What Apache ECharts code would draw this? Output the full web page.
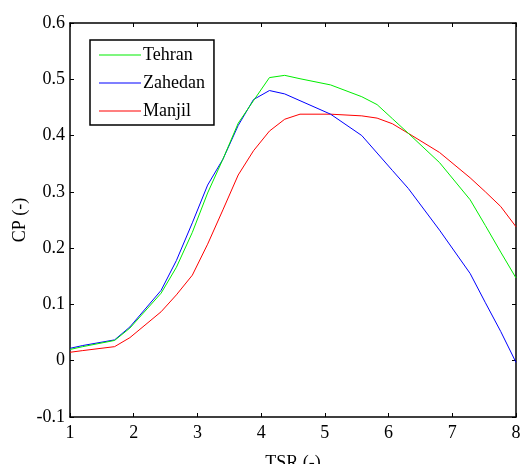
<!DOCTYPE html>
<html>
<head>
<meta charset="utf-8">
<script src="https://cdn.jsdelivr.net/npm/echarts@6/dist/echarts.min.js"></script>
<style>html,body{margin:0;padding:0;background:#fff;}#c{width:520px;height:464px;}</style>
</head>
<body>
<div id="c"></div>
<script>
const tsr = [1, 1.2, 1.7, 1.94, 2.43, 2.67, 2.92, 3.16, 3.4, 3.64, 3.88, 4.13, 4.37, 4.61, 5.09, 5.58, 5.82, 6.06, 6.31, 6.8, 7.28, 7.52, 7.76, 8];
const tehran  = [0.020, 0.025, 0.036, 0.058, 0.120, 0.166, 0.228, 0.298, 0.358, 0.422, 0.462, 0.503, 0.507, 0.501, 0.490, 0.469, 0.455, 0.430, 0.404, 0.352, 0.286, 0.240, 0.193, 0.147];
const zahedan = [0.022, 0.027, 0.037, 0.060, 0.125, 0.178, 0.245, 0.312, 0.358, 0.418, 0.464, 0.480, 0.474, 0.462, 0.438, 0.400, 0.369, 0.338, 0.306, 0.232, 0.155, 0.103, 0.052, -0.003];
const manjil  = [0.015, 0.018, 0.025, 0.041, 0.087, 0.117, 0.152, 0.207, 0.268, 0.330, 0.373, 0.408, 0.429, 0.438, 0.438, 0.435, 0.431, 0.421, 0.404, 0.370, 0.325, 0.300, 0.274, 0.238];
const xTicks = [1, 2, 3, 4, 5, 6, 7, 8];
const yTicks = [-0.1, 0, 0.1, 0.2, 0.3, 0.4, 0.5, 0.6];
const seriesNames = ['Tehran', 'Zahedan', 'Manjil'];
const seriesColors = ['#00ee00', '#0000ff', '#ff0000'];

const pairs = arr => tsr.map((x, i) => [x, arr[i]]);
const font = 'Liberation Serif';
const axisLine = { show: true, onZero: false, lineStyle: { color: '#000', width: 1.5 } };
const tick = { show: true, inside: true, length: 4, lineStyle: { color: '#000', width: 1 } };

const chart = echarts.init(document.getElementById('c'), null, { renderer: 'canvas' });
chart.setOption({
  backgroundColor: '#fff',
  animation: false,
  grid: { left: 70, right: 4, top: 23, bottom: 47, containLabel: false, outerBoundsMode: 'none' },
  legend: {
    orient: 'vertical', left: 90, top: 40,
    padding: [6, 9, 5, 9], itemGap: 10, itemWidth: 42, itemHeight: 14,
    borderColor: '#000', borderWidth: 1.5, backgroundColor: '#fff',
    textStyle: { fontFamily: font, fontSize: 18, color: '#000', padding: [0, 0, 0, -3] },
    data: seriesNames.map(n => ({ name: n, icon: 'path://M0,5 L42,5 L42,6 L0,6 Z' }))
  },
  xAxis: [{
    type: 'value', min: xTicks[0], max: xTicks[xTicks.length - 1], interval: 1,
    name: 'TSR (-)', nameLocation: 'middle', nameGap: 37,
    nameTextStyle: { fontFamily: font, fontSize: 18, color: '#000' },
    axisLine: axisLine, axisTick: tick, splitLine: { show: false },
    axisLabel: { fontFamily: font, fontSize: 18, color: '#000', margin: 7 }
  }, {
    type: 'value', position: 'top', min: xTicks[0], max: xTicks[xTicks.length - 1], interval: 1,
    axisLine: axisLine, axisTick: tick, splitLine: { show: false }, axisLabel: { show: false }
  }],
  yAxis: [{
    type: 'value', min: yTicks[0], max: yTicks[yTicks.length - 1], interval: 0.1,
    name: 'CP (-)', nameLocation: 'middle', nameGap: 41, nameRotate: 90, nameMoveOverlap: false,
    nameTextStyle: { fontFamily: font, fontSize: 18, color: '#000' },
    axisLine: axisLine, axisTick: tick, splitLine: { show: false },
    axisLabel: { fontFamily: font, fontSize: 18, color: '#000', margin: 5,
      formatter: v => String(+v.toFixed(1)) }
  }, {
    type: 'value', position: 'right', min: yTicks[0], max: yTicks[yTicks.length - 1], interval: 0.1,
    axisLine: axisLine, axisTick: tick, splitLine: { show: false }, axisLabel: { show: false }
  }],
  series: [tehran, zahedan, manjil].map((arr, i) => ({
    name: seriesNames[i], type: 'line', data: pairs(arr),
    showSymbol: false, symbol: 'none', color: seriesColors[i],
    lineStyle: { color: seriesColors[i], width: 1 }, z: 3 - i
  }))
});
</script>
</body>
</html>
